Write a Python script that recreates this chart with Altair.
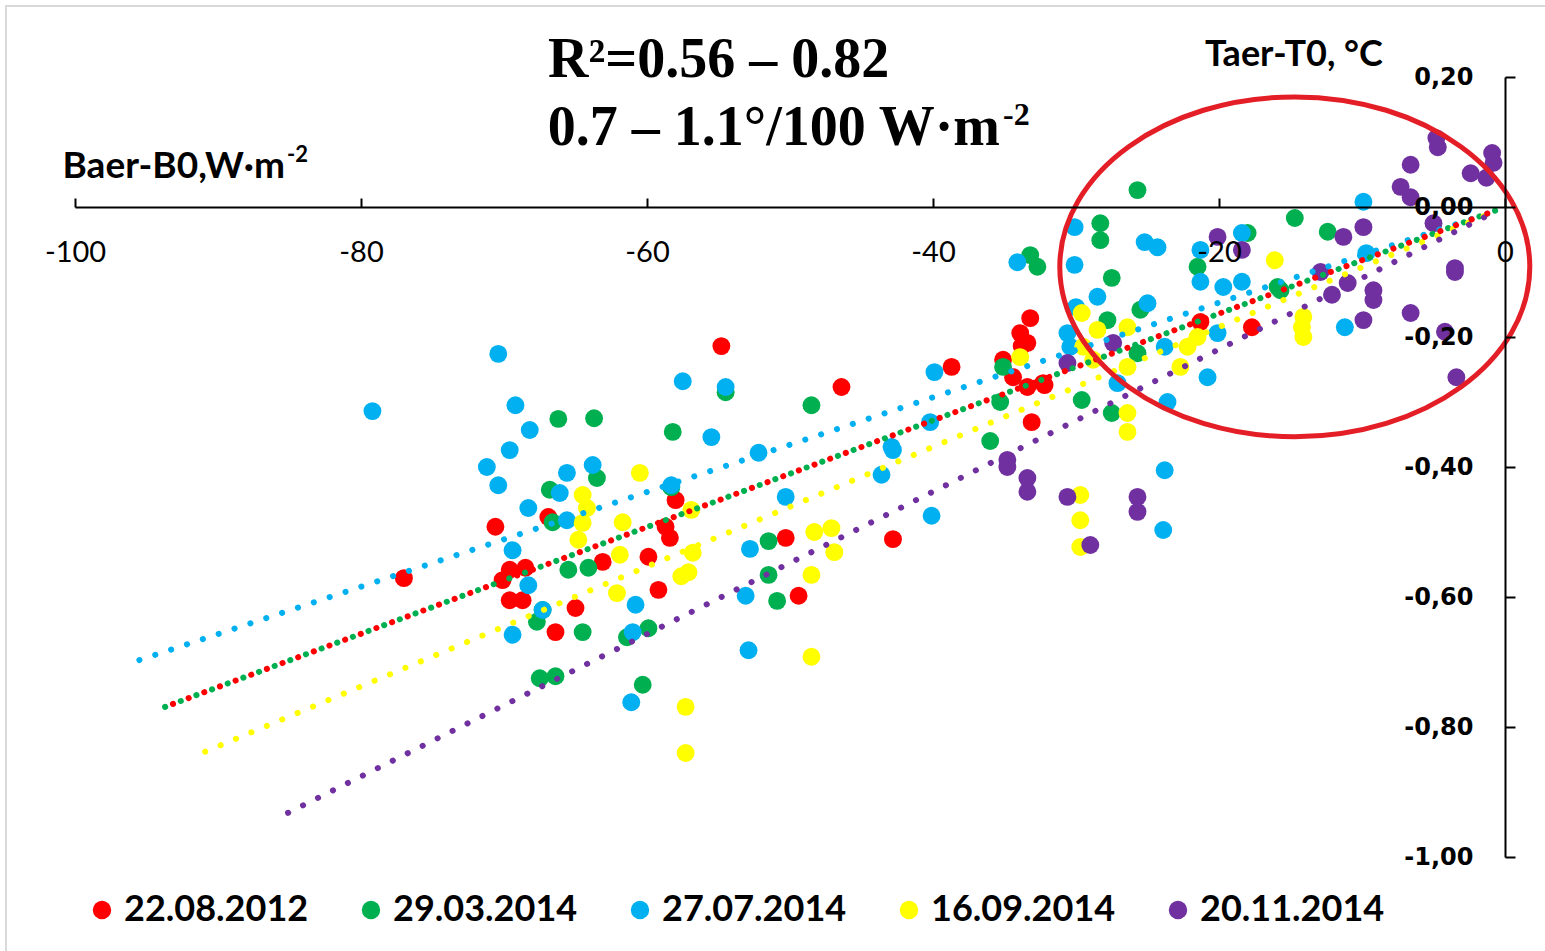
import altair as alt
import pandas as pd

SERIES = ["22.08.2012", "29.03.2014", "27.07.2014", "16.09.2014", "20.11.2014"]
COLORS = ["#FF0000", "#00B050", "#00B0F0", "#FFFF00", "#7030A0"]

red_x = [-77.0, -70.6, -70.1, -69.6, -69.6, -68.7, -68.5, -66.9, -66.4, -65.0, -63.1, -59.9, -59.2, -58.7,
         -58.4, -58.0, -54.8, -50.3, -49.4, -46.4, -42.8, -38.7, -35.1, -34.4, -33.9, -33.8, -33.2, -33.4,
         -33.4, -32.3, -33.1, -32.2, -21.3, -17.7]
red_y = [-0.571, -0.492, -0.574, -0.558, -0.605, -0.605, -0.555, -0.477, -0.654, -0.617, -0.546, -0.538,
         -0.589, -0.492, -0.509, -0.451, -0.214, -0.509, -0.598, -0.277, -0.511, -0.246, -0.235, -0.262,
         -0.194, -0.214, -0.171, -0.209, -0.277, -0.271, -0.331, -0.274, -0.177, -0.185]

green_x = [-66.2, -63.7, -66.8, -63.5, -66.6, -65.5, -64.1, -67.3, -67.7, -64.5, -59.9, -61.4, -67.5, -66.4,
           -60.3, -58.2, -58.3, -54.5, -48.5, -51.5, -51.5, -50.9, -36.0, -35.3, -35.1, -33.2, -32.7, -25.7,
           -28.3, -28.3, -27.5, -29.6, -27.5, -27.8, -25.7, -25.5, -21.5, -15.9, -14.7, -12.4, -18.0, -15.7]
green_y = [-0.326, -0.325, -0.435, -0.417, -0.485, -0.558, -0.555, -0.620, -0.638, -0.654, -0.648, -0.662,
           -0.725, -0.722, -0.735, -0.346, -0.431, -0.285, -0.305, -0.514, -0.566, -0.606, -0.360, -0.300,
           -0.246, -0.074, -0.092, 0.026, -0.025, -0.051, -0.109, -0.297, -0.317, -0.174, -0.225, -0.158,
           -0.092, -0.123, -0.017, -0.038, -0.040, -0.128]

cyan_x = [-79.2, -70.4, -69.2, -68.2, -69.6, -71.2, -70.4, -68.3, -69.4, -68.3, -69.4, -65.6, -63.8, -66.1,
          -65.6, -67.3, -60.8, -61.0, -61.1, -57.5, -54.5, -55.5, -58.3, -52.8, -52.2, -50.3, -53.1, -52.9,
          -42.9, -43.6, -40.1, -39.9, -40.2, -42.8, -34.1, -30.1, -30.1, -25.2, -24.3, -21.3, -21.3, -19.7,
          -18.4, -18.4, -25.0, -30.6, -30.4, -28.5, -30.0, -27.1, -23.6, -23.8, -23.9, -20.8, -23.8, -9.9,
          -9.7, -11.2, -20.1]
cyan_y = [-0.314, -0.226, -0.305, -0.343, -0.374, -0.400, -0.428, -0.463, -0.528, -0.582, -0.658, -0.409,
          -0.397, -0.440, -0.482, -0.620, -0.612, -0.654, -0.762, -0.268, -0.277, -0.354, -0.428, -0.526,
          -0.378, -0.446, -0.598, -0.682, -0.369, -0.412, -0.475, -0.254, -0.331, -0.374, -0.085, -0.089,
          -0.031, -0.054, -0.062, -0.066, -0.115, -0.123, -0.040, -0.115, -0.148, -0.194, -0.215, -0.138,
          -0.154, -0.271, -0.300, -0.405, -0.497, -0.262, -0.215, 0.008, -0.071, -0.185, -0.194]

yellow_x = [-64.5, -64.2, -64.5, -64.8, -61.7, -60.5, -61.9, -62.1, -56.9, -56.8, -57.1, -57.6, -57.3, -57.3,
            -48.5, -48.5, -48.3, -47.1, -46.9, -29.7, -29.7, -29.7, -26.4, -26.4, -33.9, -29.6, -28.5, -29.5,
            -28.8, -26.4, -26.4, -22.2, -22.7, -21.5, -16.1, -14.1, -14.1, -14.2]
yellow_y = [-0.443, -0.463, -0.486, -0.512, -0.485, -0.409, -0.535, -0.594, -0.466, -0.532, -0.562, -0.568,
            -0.769, -0.840, -0.692, -0.566, -0.500, -0.494, -0.531, -0.443, -0.482, -0.523, -0.317, -0.346,
            -0.231, -0.163, -0.189, -0.215, -0.235, -0.185, -0.246, -0.215, -0.246, -0.200, -0.082, -0.169,
            -0.200, -0.185]

purple_x = [-34.8, -34.8, -33.4, -33.4, -30.6, -29.0, -25.7, -25.7, -30.6, -27.4, -20.1, -18.4, -11.3, -9.9,
            -7.3, -6.6, -6.6, -4.8, -4.7, -2.4, -0.9, -0.8, -1.3, -5.0, -3.5, -3.5, -6.6, -4.2, -3.4, -9.9,
            -9.2, -9.2, -12.1, -11.0, -12.9]
purple_y = [-0.389, -0.400, -0.417, -0.438, -0.446, -0.520, -0.446, -0.469, -0.240, -0.209, -0.046, -0.066,
            -0.046, -0.031, 0.031, 0.015, 0.065, 0.106, 0.092, 0.052, 0.083, 0.068, 0.045, -0.025, -0.094,
            -0.100, -0.163, -0.192, -0.262, -0.174, -0.128, -0.143, -0.135, -0.117, -0.100]

# trend line end points (as drawn in the picture), same order as SERIES
trend_x0 = [-93.7, -93.7, -95.5, -90.9, -85.1]
trend_y0 = [-0.769, -0.769, -0.697, -0.838, -0.932]
trend_x1 = [-0.5, -0.5, -0.2, -0.5, -1.2]
trend_y1 = [-0.004, -0.004, -0.003, -0.005, -0.013]

x_ticks = [-100, -80, -60, -40, -20, 0]
y_ticks = [0.2, 0.0, -0.2, -0.4, -0.6, -0.8, -1.0]

# ---------------------------------------------------------------
xs = [red_x, green_x, cyan_x, yellow_x, purple_x]
ys = [red_y, green_y, cyan_y, yellow_y, purple_y]
rows = []
for s, xx, yy in zip(SERIES, xs, ys):
    for a, b in zip(xx, yy):
        rows.append({"series": s, "x": a, "y": b})
pts = pd.DataFrame(rows)

trows = []
for i, s in enumerate(SERIES):
    trows.append({"series": s, "x": trend_x0[i], "y": trend_y0[i]})
    trows.append({"series": s, "x": trend_x1[i], "y": trend_y1[i]})
trend = pd.DataFrame(trows)

xscale = alt.Scale(domain=[-100, 0], nice=False, zero=False)
yscale = alt.Scale(domain=[-1.0, 0.2], nice=False, zero=False)

x_axis = alt.Axis(orient="top", offset=-130, values=x_ticks, tickSize=9, tickWidth=2, tickColor="black",
                  domainColor="black", domainWidth=2, labelFont="Lato", labelFontSize=29,
                  labelColor="black", labelPadding=-54, labelBaseline="middle", labelFlush=False,
                  labelOverlap=False, labelExpr="replace(datum.label, '\u2212', '-')",
                  grid=False, title=None, zindex=1)
y_axis = alt.Axis(orient="right", values=y_ticks, tickSize=10, tickWidth=2, tickColor="black",
                  domainColor="black", domainWidth=2, labelFont="DejaVu Sans", labelFontWeight="bold",
                  labelFontSize=24, labelColor="black", labelAlign="right", labelPadding=-42,
                  labelFlush=False, labelOverlap=False,
                  labelExpr="replace(replace(format(datum.value, '.2f'), '.', ','), '\u2212', '-')",
                  grid=False, title=None, zindex=1)

color = alt.Color("series:N", scale=alt.Scale(domain=SERIES, range=COLORS),
                  legend=alt.Legend(orient="none", legendX=9, legendY=815, direction="horizontal",
                                    title=None, symbolType="circle", symbolSize=340, symbolStrokeWidth=0,
                                    labelFont="Lato", labelFontSize=36, labelFontWeight="bold",
                                    labelColor="black", columnPadding=44, labelOffset=4, labelLimit=400))

points = alt.Chart(pts).mark_circle(size=320, opacity=1).encode(
    x=alt.X("x:Q", scale=xscale, axis=x_axis),
    y=alt.Y("y:Q", scale=yscale, axis=y_axis),
    color=color,
)

stroke = alt.Stroke("series:N", scale=alt.Scale(domain=SERIES, range=COLORS), legend=None)
lines = alt.Chart(trend).transform_filter(alt.datum.series != SERIES[0]).mark_line(
    strokeDash=[0.1, 16.6], strokeCap="round", strokeWidth=6).encode(
    x=alt.X("x:Q", scale=xscale), y=alt.Y("y:Q", scale=yscale), stroke=stroke)
red_line = alt.Chart(trend).transform_filter(alt.datum.series == SERIES[0]).mark_line(
    strokeDash=[0.1, 16.6], strokeDashOffset=8.3, strokeCap="round", strokeWidth=6).encode(
    x=alt.X("x:Q", scale=xscale), y=alt.Y("y:Q", scale=yscale), stroke=stroke)

# red ellipse highlighting the region near zero
k = 0.5523
r = 0.723
ELLIPSE = (f"M -1 0 C -1 {-k*r:.3f} {-k:.3f} {-r} 0 {-r} C {k:.3f} {-r} 1 {-k*r:.3f} 1 0 "
           f"C 1 {k*r:.3f} {k:.3f} {r} 0 {r} C {-k:.3f} {r} -1 {k*r:.3f} -1 0 Z")
ell = alt.Chart(pd.DataFrame({"x": [-14.7], "y": [-0.092]})).mark_point(
    shape=ELLIPSE, size=470 * 470, filled=False, stroke="#E41E26", strokeWidth=5, opacity=1).encode(
    x=alt.X("x:Q", scale=xscale), y=alt.Y("y:Q", scale=yscale))


def label(text, x, y, **kw):
    return alt.Chart(pd.DataFrame({"t": [text]})).mark_text(baseline="alphabetic", color="black", **kw).encode(
        x=alt.value(x), y=alt.value(y), text="t:N")


t1 = label("R\u00b2=0.56 \u2013 0.82", 473, 0, align="left", font="Liberation Serif", fontSize=56,
           fontWeight="bold")
t2 = label("0.7 \u2013 1.1\u00b0/100 W\u00b7m", 925, 68, align="right", font="Liberation Serif", fontSize=56,
           fontWeight="bold")
t2s = label("-2", 928, 48, align="left", font="Liberation Serif", fontSize=32, fontWeight="bold")
bx = label("Baer-B0,W\u00b7m", 210, 101, align="right", font="Lato", fontSize=37, fontWeight="bold")
bxs = label("-2", 212, 85, align="left", font="Lato", fontSize=22, fontWeight="bold")
ty = label("Taer-T0, \u00b0C", 1130, -11, align="left", font="Lato", fontSize=36, fontWeight="bold")

frame = alt.Chart(pd.DataFrame({"a": [0]})).mark_rect(fillOpacity=0, stroke="#D9D9D9", strokeWidth=2).encode(
    x=alt.value(-69), x2=alt.value(1490), y=alt.value(-71), y2=alt.value(900))

chart = alt.layer(frame, points, lines, red_line, ell, t1, t2, t2s, bx, bxs, ty).properties(
    width=1430, height=780,
    padding={"left": 75, "top": 77, "right": 40, "bottom": 94},
    autosize=alt.AutoSizeParams(type="none"),
).configure_view(stroke=None)

chart.save("out.html", embed_options={"renderer": "svg", "actions": False})
